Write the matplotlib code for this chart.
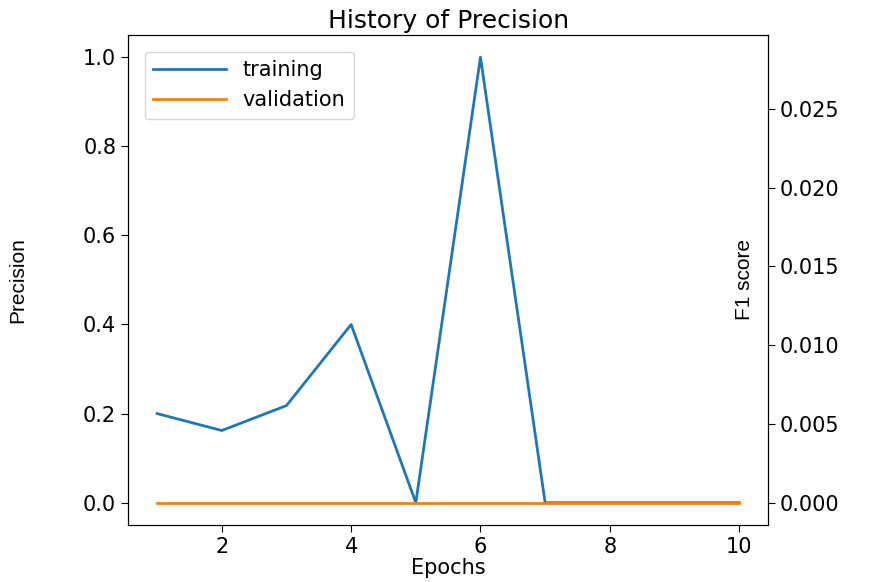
import matplotlib
matplotlib.use("Agg")
import matplotlib.pyplot as plt

epochs = [1, 2, 3, 4, 5, 6, 7, 8, 9, 10]
training = [0.2, 0.162, 0.218, 0.4, 0.0, 1.0, 0.0, 0.0, 0.0, 0.0]
validation = [0.0, 0.0, 0.0, 0.0, 0.0, 0.0, 0.0, 0.0, 0.0, 0.0]
f1_ylim = (-0.00141, 0.0297)

fig = plt.figure(figsize=(8.71, 5.82), dpi=100)
ax = fig.add_axes([0.147, 0.098, 0.735, 0.842])
ax.plot(epochs, training, color="#1f77b4", lw=2, label="training")
ax.plot(epochs, validation, color="#ff7f0e", lw=2, label="validation")
ax.set_ylim(-0.05, 1.05)
ax.set_title("History of Precision", fontsize=18, pad=5)
ax.set_xlabel("Epochs", fontsize=15, labelpad=1)
ax.set_ylabel("Precision", fontsize=15, family="Liberation Sans", labelpad=40)
ax.tick_params(labelsize=15, length=5)
ax.set_xticks([2, 4, 6, 8, 10])
ax.legend(loc="upper left", fontsize=15, handlelength=3.5, borderaxespad=0.8)

ax2 = ax.twinx()
ax2.set_ylim(*f1_ylim)
ax2.set_ylabel("F1 score", fontsize=15, family="Liberation Sans", labelpad=-75)
ax2.tick_params(labelsize=15, length=5)

fig.savefig("out.png", dpi=100)
